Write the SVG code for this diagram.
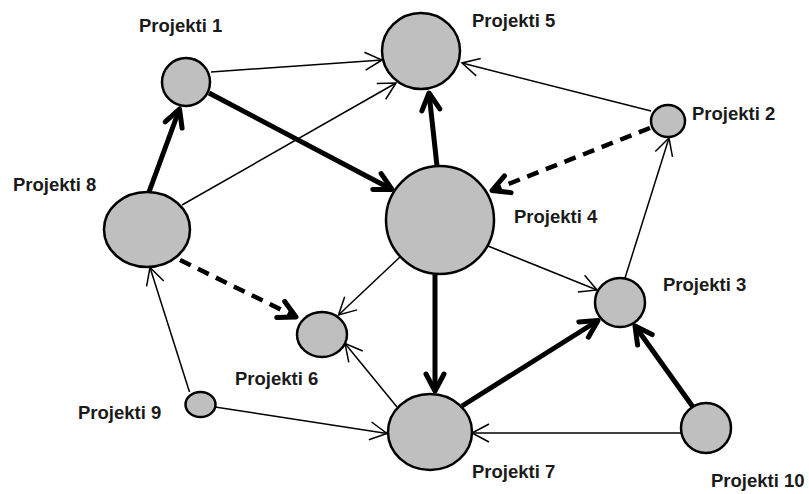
<svg xmlns="http://www.w3.org/2000/svg" width="809" height="494" viewBox="0 0 809 494">
  <style>
    .node { fill: #bfbfbf; stroke: #000; stroke-width: 2.5; }
    .label { font-family: "Liberation Sans", Arial, sans-serif; font-weight: bold; font-size: 18.5px; fill: #1a1a1a; }
    .thin { fill: none; stroke: #000; stroke-width: 1.5; marker-end: url(#head-thin); }
    .thick { fill: none; stroke: #000; stroke-width: 5; marker-end: url(#head-thick); }
    .dashed { fill: none; stroke: #000; stroke-width: 4.5; stroke-dasharray: 12 8; marker-end: url(#head-thick); }
  </style>
  <defs>
    <marker id="head-thin" markerUnits="userSpaceOnUse" orient="auto" viewBox="-25 -25 50 50" markerWidth="50" markerHeight="50" refX="0" refY="0" overflow="visible">
      <path d="M-17,-9 L0,0 L-17,9" fill="none" stroke="#000" stroke-width="1.5" stroke-dasharray="none"/>
    </marker>
    <marker id="head-thick" markerUnits="userSpaceOnUse" orient="auto" viewBox="-25 -25 50 50" markerWidth="50" markerHeight="50" refX="0" refY="0" overflow="visible">
      <path d="M-17,-9 L0,0 L-17,9" fill="none" stroke="#000" stroke-width="5" stroke-linecap="round" stroke-linejoin="round" stroke-dasharray="none"/>
    </marker>
  </defs>

  <rect width="809" height="494" fill="#fff"/>

  <g id="connectors">
    <line class="thin" x1="211" y1="72" x2="382" y2="60"/>
    <line class="thin" x1="182" y1="205" x2="396" y2="83"/>
    <line class="thick" x1="209" y1="93" x2="392" y2="189.5"/>
    <line class="thick" x1="149" y1="192" x2="179.5" y2="109"/>
    <line class="thick" x1="437" y1="166" x2="429" y2="93"/>
    <line class="thin" x1="651" y1="111" x2="462" y2="63"/>
    <line class="dashed" x1="650" y1="128" x2="492" y2="190.5"/>
    <line class="thin" x1="625" y1="278" x2="669" y2="138"/>
    <line class="thin" x1="488" y1="246" x2="597" y2="290"/>
    <line class="thin" x1="400" y1="257" x2="338.5" y2="315"/>
    <line class="thick" x1="435" y1="274" x2="435" y2="391"/>
    <line class="dashed" x1="180" y1="260" x2="296" y2="317"/>
    <line class="thin" x1="189.5" y1="392" x2="150" y2="267.5"/>
    <line class="thin" x1="397" y1="407" x2="345" y2="343.5"/>
    <line class="thin" x1="215" y1="407" x2="387" y2="433.5"/>
    <line class="thick" x1="462" y1="406" x2="598" y2="320.5"/>
    <line class="thick" x1="693" y1="407" x2="635" y2="326"/>
    <line class="thin" x1="681.5" y1="433" x2="472" y2="433"/>
  </g>

  <g id="projekti-1">
    <circle class="node" cx="186" cy="82" r="24"/>
    <text class="label" x="139" y="32">Projekti 1</text>
  </g>
  <g id="projekti-5">
    <ellipse class="node" cx="421" cy="51" rx="39" ry="38"/>
    <text class="label" x="472" y="27">Projekti 5</text>
  </g>
  <g id="projekti-2">
    <ellipse class="node" cx="668" cy="121" rx="17" ry="16"/>
    <text class="label" x="692" y="120">Projekti 2</text>
  </g>
  <g id="projekti-8">
    <ellipse class="node" cx="147" cy="229.5" rx="43" ry="37.5"/>
    <text class="label" x="13" y="191">Projekti 8</text>
  </g>
  <g id="projekti-4">
    <circle class="node" cx="440" cy="220" r="54"/>
    <text class="label" x="514" y="223">Projekti 4</text>
  </g>
  <g id="projekti-3">
    <ellipse class="node" cx="620" cy="302.5" rx="25" ry="24.5"/>
    <text class="label" x="663" y="291">Projekti 3</text>
  </g>
  <g id="projekti-6">
    <ellipse class="node" cx="322" cy="334.5" rx="25" ry="22.5"/>
    <text class="label" x="235" y="385">Projekti 6</text>
  </g>
  <g id="projekti-9">
    <ellipse class="node" cx="200.5" cy="404.5" rx="15" ry="12.5"/>
    <text class="label" x="78" y="419">Projekti 9</text>
  </g>
  <g id="projekti-7">
    <ellipse class="node" cx="430" cy="432" rx="42" ry="38"/>
    <text class="label" x="472" y="478">Projekti 7</text>
  </g>
  <g id="projekti-10">
    <circle class="node" cx="706" cy="428" r="25"/>
    <text class="label" x="711" y="487">Projekti 10</text>
  </g>
</svg>
